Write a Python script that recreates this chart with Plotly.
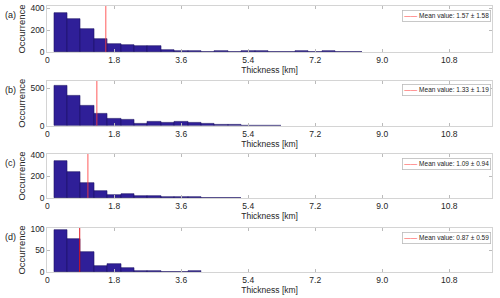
import plotly.graph_objects as go

W, H = 500, 298

bin_centers = [0.36, 0.72, 1.08, 1.44, 1.80, 2.16, 2.52, 2.88, 3.24, 3.60, 3.96,
               4.32, 4.68, 5.04, 5.40, 5.76, 6.12, 6.48, 6.84, 7.20, 7.56, 7.92, 8.28]
bin_width = 0.36

counts_a = [354, 298, 206, 120, 71, 68, 58, 58, 22, 9, 9, 3, 9, 3, 12, 5, 2, 2, 6, 2, 6, 2, 2]
counts_b = [540, 408, 265, 158, 95, 82, 21, 53, 42, 47, 34, 21, 16, 11, 6, 3, 2]
counts_c = [346, 236, 138, 64, 30, 35, 20, 17, 8, 8, 5, 4, 3, 1]
counts_d = [98, 77, 46, 15, 18, 9, 2, 2, 1, 0, 2]

means = [1.57, 1.33, 1.09, 0.87]
stds = [1.58, 1.19, 0.94, 0.59]
panel_labels = ["(a)", "(b)", "(c)", "(d)"]
y_max = [421, 603, 406, 101.5]
y_ticks = [[0, 200, 400], [0, 500], [0, 200, 400], [0, 50, 100]]
x_ticks = [0, 1.8, 3.6, 5.4, 7.2, 9.0, 10.8]
x_ticklabels = ["0", "1.8", "3.6", "5.4", "7.2", "9.0", "10.8"]
x_range = [0, 11.95]

all_counts = [counts_a, counts_b, counts_c, counts_d]

# panel pixel extents (top, bottom) of plot areas
px_top = [6, 80.7, 154, 228]
px_bot = [52, 125.7, 198, 272]
x_left, x_right = 47.3, 492

font_family = "Liberation Sans, Arial, sans-serif"
fig = go.Figure()
grid = "#d4d4d4"
text_col = "#262626"

for i in range(4):
    xa = "x" if i == 0 else f"x{i+1}"
    ya = "y" if i == 0 else f"y{i+1}"
    c = all_counts[i]
    fig.add_trace(go.Bar(
        x=bin_centers[:len(c)], y=c, width=bin_width,
        marker=dict(color="#2f1f98", line=dict(color="#1c1264", width=0.6)),
        xaxis=xa, yaxis=ya, showlegend=False))
    line_col = "rgba(255,60,60,0.6)" if i < 3 else "rgba(225,20,30,0.9)"
    fig.add_trace(go.Scatter(
        x=[means[i], means[i]], y=[0, y_max[i]], mode="lines",
        line=dict(color=line_col, width=1.4 if i < 3 else 1.1),
        xaxis=xa, yaxis=ya, showlegend=False, hoverinfo="skip"))

    ydom = [1 - px_bot[i] / H, 1 - px_top[i] / H]
    xkey = "xaxis" if i == 0 else f"xaxis{i+1}"
    ykey = "yaxis" if i == 0 else f"yaxis{i+1}"
    fig.layout[xkey] = dict(
        domain=[x_left / W, x_right / W], range=x_range, anchor=ya, automargin=False,
        tickvals=x_ticks, ticktext=x_ticklabels,
        ticks="inside", ticklen=3, tickcolor="#bbbbbb", mirror="ticks",
        showline=True, linecolor=grid, linewidth=1, showgrid=False, zeroline=False,
        tickfont=dict(size=8.5, color=text_col, family=font_family),
        title=dict(text="Thickness [km]", font=dict(size=8.5, color=text_col, family=font_family), standoff=1),
    )
    fig.layout[ykey] = dict(
        domain=ydom, range=[0, y_max[i]], anchor=xa, automargin=False,
        tickvals=y_ticks[i],
        ticks="inside", ticklen=3, tickcolor="#bbbbbb", mirror="ticks",
        showline=True, linecolor=grid, linewidth=1, showgrid=False, zeroline=False,
        tickfont=dict(size=8.5, color=text_col, family=font_family),
        title=dict(text="Occurrence", font=dict(size=9.5, color=text_col, family=font_family), standoff=3),
    )
    # panel label
    fig.add_annotation(
        text=panel_labels[i], xref="paper", yref="paper",
        x=3 / W, y=1 - (px_top[i] + 9) / H, xanchor="left", yanchor="middle",
        showarrow=False, font=dict(size=9, color="#222222", family=font_family))
    # legend box
    fig.add_annotation(
        text=f"<span style='color:#ff4444'>——</span> Mean value: {means[i]:.2f} ± {stds[i]:.2f}",
        xref="paper", yref="paper",
        x=(x_right - 1.5) / W, y=1 - (px_top[i] + 3.5) / H, xanchor="right", yanchor="top",
        showarrow=False, font=dict(size=6.5, color="#222222", family=font_family),
        bgcolor="white", bordercolor="#bbbbbb", borderwidth=0.8, borderpad=1.5)

fig.update_layout(
    width=W, height=H, margin=dict(l=0, r=0, t=0, b=0, autoexpand=False),
    paper_bgcolor="white", plot_bgcolor="white", bargap=0,
    font=dict(family=font_family),
)

fig.write_html("out.html", config={"displayModeBar": False},
               post_script="document.body.style.margin='0';document.body.style.overflow='hidden';")
